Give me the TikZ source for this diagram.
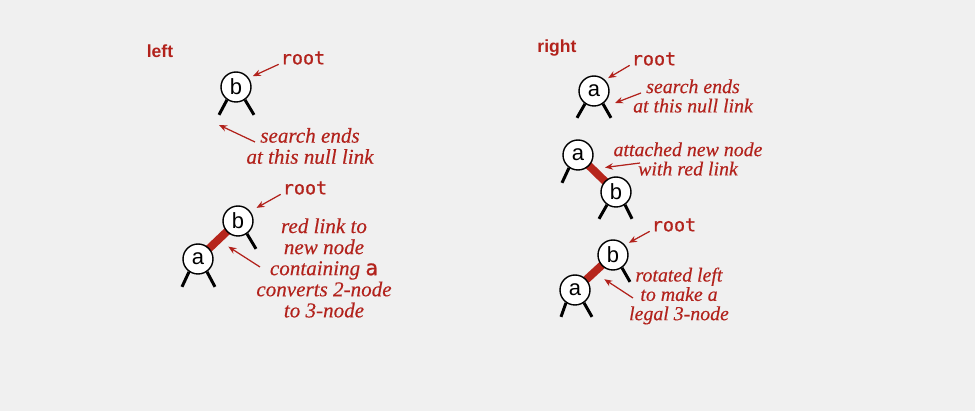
\documentclass[tikz,border=0pt]{standalone}
\usepackage{fontspec}
\usepackage{tikz}
\usetikzlibrary{arrows.meta,calc}
\newfontfamily\treefont{Liberation Sans}
\newfontfamily\codefont{DejaVu Sans Mono}[FakeBold=0.8]
\newfontfamily\notefont{Liberation Serif Italic}[FakeBold=0.3]
\definecolor{notered}{RGB}{178,34,28}
\definecolor{linkred}{RGB}{182,38,28}
\definecolor{paper}{RGB}{240,240,240}
\pgfdeclarelayer{background}
\pgfsetlayers{background,main}

\begin{document}
\begin{tikzpicture}[
  x=0.02cm, y=-0.02cm,
  treenode/.style={circle, draw, line width=0.8pt, fill=white, minimum size=0.6cm, inner sep=0pt, font=\treefont\fontsize{12.5}{12}\selectfont},
  nulllink/.style={line width=1.7pt},
  redlink/.style={line width=4.5pt, draw=linkred},
  arrow/.style={-{Stealth[length=1.6mm, width=1.3mm]}, draw=notered, fill=notered, line width=0.7pt},
  note/.style={text=notered, align=center, inner sep=1pt, font=\notefont\fontsize{12}{12}\selectfont},
  smallnote/.style={note, font=\notefont\fontsize{11.3}{11}\selectfont},
  code/.style={text=notered, inner sep=1pt, font=\codefont\fontsize{10.5}{12}\selectfont},
  title/.style={text=notered, font=\treefont\bfseries\fontsize{10}{12}\selectfont}
]
\begin{pgfonlayer}{background}
\fill[paper] (0,0) rectangle (975,411);
\end{pgfonlayer}
\useasboundingbox (0,0) rectangle (975,411);

% left: search for a in a 2-node
\node[title] (leftT) at (160,51) {left};
\node[treenode] (bL1) at (236,87) {b};
\draw[nulllink] (bL1.-125) -- ++(-8,15);
\draw[nulllink] (bL1.-55) -- ++(9,15);
\node[code] (rootL1) at (303,58) {root};
\draw[arrow, shorten >=2.5pt] (rootL1.base west) -- (bL1.35);
\node[note] (srchL1) at (310,146) {search ends\\at this null link};
\coordinate (hitL1) at ($(bL1)+(-17,38)$);
\draw[arrow] ($(srchL1)+(-55,-4)$) -- (hitL1);

% left: new red link
\node[treenode] (bL2) at (238,221) {b};
\node[treenode] (aL2) at ($(bL2)+(-40,38)$) {a};
\begin{pgfonlayer}{background}
\draw[redlink] (aL2.center) -- (bL2.center);
\end{pgfonlayer}
\draw[nulllink] (bL2.-55) -- ++(9,15);
\draw[nulllink] (aL2.-125) -- ++(-7,15);
\draw[nulllink] (aL2.-55) -- ++(8,15);
\node[code] (rootL2) at (305,188) {root};
\draw[arrow, shorten >=4pt] (rootL2.base west) -- (bL2.38);
\node[note] (noteL2) at (324,268) {red link to\\new node\\containing {\codefont\upshape a}\\converts 2-node\\to 3-node};
\draw[arrow, shorten >=7pt] ($(noteL2)+(-64,-1)$) -- ($(aL2)!0.5!(bL2)$);

% right: search for b in a 2-node
\node[title] (rightT) at (557,48) {right};
\node[treenode] (aR1) at (594,91) {a};
\draw[nulllink] (aR1.-125) -- ++(-8,14);
\draw[nulllink] (aR1.-55) -- ++(8,14);
\node[code] (rootR1) at (654,59) {root};
\draw[arrow, shorten >=2pt] (rootR1.base west) -- (aR1.45);
\node[smallnote] (srchR1) at (693,96) {search ends\\at this null link};
\coordinate (hitR1) at ($(aR1)+(21,12)$);
\draw[arrow] ($(srchR1)+(-52,-3)$) -- (hitR1);

% right: attach b with red link
\node[treenode] (aR2) at (578,155) {a};
\node[treenode] (bR2) at ($(aR2)+(38,37)$) {b};
\begin{pgfonlayer}{background}
\draw[redlink] (aR2.center) -- (bR2.center);
\end{pgfonlayer}
\draw[nulllink] (aR2.-125) -- ++(-7,15);
\draw[nulllink] (bR2.-125) -- ++(-8,14);
\draw[nulllink] (bR2.-55) -- ++(7,14);
\node[smallnote] (noteR2) at (688,159) {attached new node\\with red link};
\coordinate (hitR2) at ($(aR2)!0.5!(bR2)+(8,-6)$);
\draw[arrow] ($(noteR2)+(-48,4)$) -- (hitR2);

% right: rotate left
\node[treenode] (bR3) at (613,255) {b};
\node[treenode] (aR3) at ($(bR3)+(-38,35)$) {a};
\begin{pgfonlayer}{background}
\draw[redlink] (aR3.center) -- (bR3.center);
\end{pgfonlayer}
\draw[nulllink] (bR3.-55) -- ++(8,14);
\draw[nulllink] (aR3.-125) -- ++(-5,14);
\draw[nulllink] (aR3.-55) -- ++(8,14);
\node[code] (rootR3) at (674,225) {root};
\draw[arrow, shorten >=2.5pt] (rootR3.base west) -- (bR3.40);
\node[smallnote] (noteR3) at (679,296) {rotated left\\to make a\\legal 3-node};
\draw[arrow, shorten >=7pt] ($(noteR3)+(-46,2)$) -- ($(bR3)!0.5!(aR3)$);
\end{tikzpicture}
\end{document}
